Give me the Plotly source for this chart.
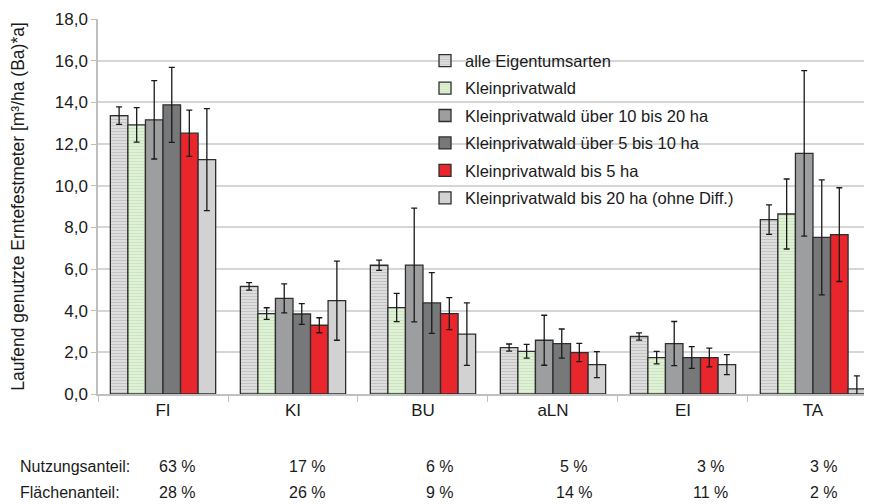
import plotly.graph_objects as go

categories = ["FI", "KI", "BU", "aLN", "EI", "TA"]
series_names = [
    "alle Eigentumsarten",
    "Kleinprivatwald",
    "Kleinprivatwald über 10 bis 20 ha",
    "Kleinprivatwald über 5 bis 10 ha",
    "Kleinprivatwald bis 5 ha",
    "Kleinprivatwald bis 20 ha (ohne Diff.)",
]
alle = [13.36, 5.17, 6.18, 2.23, 2.76, 8.37]
alle_err = [0.42, 0.18, 0.25, 0.17, 0.17, 0.71]
klein = [12.92, 3.86, 4.15, 2.05, 1.75, 8.64]
klein_err = [0.83, 0.28, 0.68, 0.33, 0.30, 1.68]
ueber10 = [13.16, 4.59, 6.19, 2.58, 2.42, 11.55]
ueber10_err = [1.88, 0.70, 2.73, 1.20, 1.06, 3.97]
ueber5 = [13.88, 3.84, 4.37, 2.42, 1.75, 7.52]
ueber5_err = [1.80, 0.50, 1.46, 0.70, 0.52, 2.76]
bis5 = [12.52, 3.30, 3.86, 1.99, 1.75, 7.65]
bis5_err = [1.11, 0.36, 0.77, 0.44, 0.45, 2.25]
bis20 = [11.25, 4.48, 2.87, 1.41, 1.41, 0.25]
bis20_err = [2.45, 1.90, 1.50, 0.62, 0.48, 0.62]

nutzungsanteil = ["63 %", "17 %", "6 %", "5 %", "3 %", "3 %"]
flaechenanteil = ["28 %", "26 %", "9 %", "14 %", "11 %", "2 %"]

# styling
values = [alle, klein, ueber10, ueber5, bis5, bis20]
errors = [alle_err, klein_err, ueber10_err, ueber5_err, bis5_err, bis20_err]
fills = ["#dcdcdc", "#dcefd2", "#9c9e9f", "#77787a", "#e8262b", "#d2d2d2"]
patterns = [
    dict(shape="-", fgcolor="#a3a3a3", bgcolor="#e2e2e2", size=3, solidity=0.45),
    dict(shape="-", fgcolor="#addb98", bgcolor="#e6f3de", size=3, solidity=0.45),
    None, None, None, None,
]
share_xshift = [14, 14, 17, 21, 28, 11]

FONT = "Liberation Sans, Arial, sans-serif"

fig = go.Figure()
for i, (name, v, e, c, p) in enumerate(zip(series_names, values, errors, fills, patterns)):
    marker = dict(color=c, line=dict(color="#2e2e2e", width=1.3))
    if p is not None:
        marker["pattern"] = p
    fig.add_trace(go.Bar(
        name=name, x=categories, y=v, legendgroup=f"g{i}",
        error_y=dict(type="data", array=e, visible=True, color="#1a1a1a",
                     thickness=1.3, width=3),
        marker=marker,
    ))

Y1 = -0.1924
Y2 = -0.2617
ann = []
ann.append(dict(text="Nutzungsanteil:", x=0, xref="paper", xshift=-80, y=Y1, yref="paper",
                showarrow=False, xanchor="left", yanchor="middle", font=dict(size=16)))
ann.append(dict(text="Flächenanteil:", x=0, xref="paper", xshift=-80, y=Y2, yref="paper",
                showarrow=False, xanchor="left", yanchor="middle", font=dict(size=16)))
for cat, n, f, xs in zip(categories, nutzungsanteil, flaechenanteil, share_xshift):
    ann.append(dict(text=n, x=cat, xref="x", xshift=xs, y=Y1, yref="paper", showarrow=False,
                    xanchor="center", yanchor="middle", font=dict(size=16)))
    ann.append(dict(text=f, x=cat, xref="x", xshift=xs, y=Y2, yref="paper", showarrow=False,
                    xanchor="center", yanchor="middle", font=dict(size=16)))

fig.update_layout(
    width=864, height=496,
    margin=dict(l=90, r=0, t=10.5, b=110.2, autoexpand=False),
    paper_bgcolor="white", plot_bgcolor="white",
    font=dict(family=FONT, size=17, color="#1a1a1a"),
    separators=",.",
    barmode="group", bargap=0.19, bargroupgap=0,
    showlegend=True,
    legend=dict(x=0.4225, y=0.935, xanchor="left", yanchor="top",
                bgcolor="rgba(0,0,0,0)", font=dict(size=16.5), tracegroupgap=3.0),
    annotations=ann,
    xaxis=dict(range=[-0.5, 5.454], showline=True, linecolor="#bfbfbf", linewidth=1.5,
               ticks="outside", tickson="boundaries", ticklen=6, tickcolor="#bfbfbf",
               tickfont=dict(size=17), showgrid=False),
    yaxis=dict(range=[0, 18], dtick=2, tickformat=".1f", showline=True, linecolor="#bfbfbf",
               linewidth=1.5, ticks="outside", ticklen=5, tickcolor="#bfbfbf",
               gridcolor="#d6d6d6", gridwidth=1.5, tickfont=dict(size=17),
               title=dict(text="Laufend genutzte Erntefestmeter [m³/ha (Ba)*a]",
                          font=dict(size=17.5), standoff=26),
               zeroline=False),
)

fig.write_html("out.html")
